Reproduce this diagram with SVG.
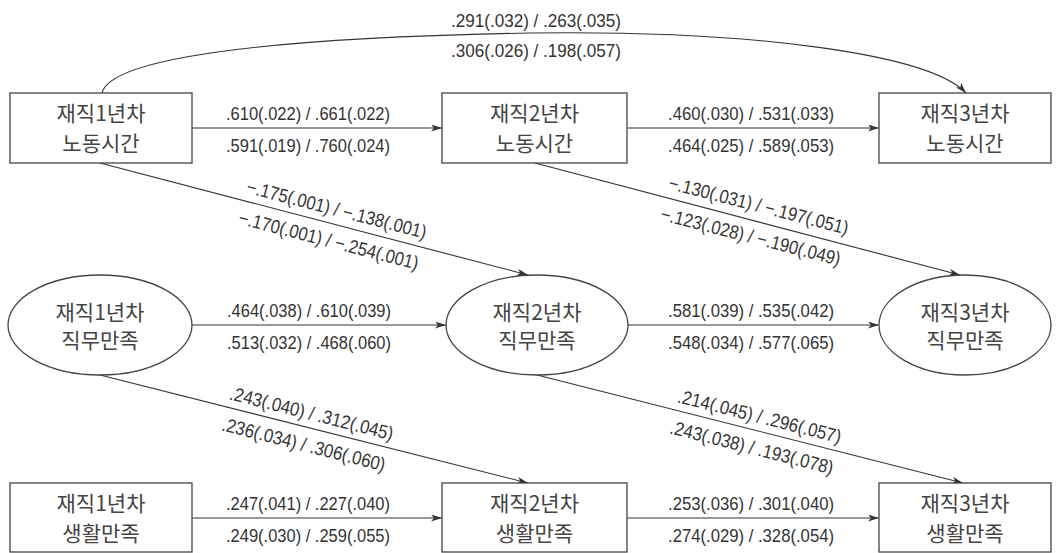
<svg xmlns="http://www.w3.org/2000/svg" width="1061" height="553" viewBox="0 0 1061 553">
<style>
.box{fill:#fff;stroke:#444;stroke-width:1.3}
.nt{font-family:"Noto Sans CJK KR","Noto Sans",sans-serif;font-size:21px;fill:#444;text-anchor:middle}
.ln{fill:none;stroke:#333;stroke-width:1.1}
.lb{font-family:"Liberation Sans",Arial,sans-serif;font-size:19px;fill:#333;text-anchor:middle}
</style>
<defs>
<marker id="ah" markerUnits="userSpaceOnUse" markerWidth="12" markerHeight="8" refX="11" refY="3.5" orient="auto">
<path d="M0,0 L11,3.5 L0,7 L3,3.5 z" fill="#333"/>
</marker>
</defs>
<rect width="1061" height="553" fill="#fff"/>
<g id="connectors">
<path class="ln" marker-end="url(#ah)" d="M102,93 C110,60 250,38 530,33 C760,30 930,55 966,93"/>
<line class="ln" marker-end="url(#ah)" x1="192" y1="128" x2="442" y2="128"/>
<line class="ln" marker-end="url(#ah)" x1="627" y1="128" x2="879" y2="128"/>
<line class="ln" marker-end="url(#ah)" x1="192" y1="325" x2="446" y2="325"/>
<line class="ln" marker-end="url(#ah)" x1="628" y1="325" x2="879" y2="325"/>
<line class="ln" marker-end="url(#ah)" x1="192" y1="518" x2="442" y2="518"/>
<line class="ln" marker-end="url(#ah)" x1="627" y1="518" x2="879" y2="518"/>
<line class="ln" marker-end="url(#ah)" x1="100" y1="163" x2="528" y2="275"/>
<line class="ln" marker-end="url(#ah)" x1="535" y1="163" x2="960" y2="275"/>
<line class="ln" marker-end="url(#ah)" x1="100" y1="375" x2="528" y2="483"/>
<line class="ln" marker-end="url(#ah)" x1="537" y1="375" x2="963" y2="483"/>
</g>
<g id="labels">
<text class="lb" x="536" y="27" textLength="170" lengthAdjust="spacingAndGlyphs">.291(.032) / .263(.035)</text>
<text class="lb" x="536" y="57" textLength="170" lengthAdjust="spacingAndGlyphs">.306(.026) / .198(.057)</text>
<text class="lb" x="308" y="120" textLength="164" lengthAdjust="spacingAndGlyphs">.610(.022) / .661(.022)</text>
<text class="lb" x="308" y="152" textLength="164" lengthAdjust="spacingAndGlyphs">.591(.019) / .760(.024)</text>
<text class="lb" x="751" y="120" textLength="166" lengthAdjust="spacingAndGlyphs">.460(.030) / .531(.033)</text>
<text class="lb" x="751" y="152" textLength="166" lengthAdjust="spacingAndGlyphs">.464(.025) / .589(.053)</text>
<text class="lb" x="309" y="317" textLength="164" lengthAdjust="spacingAndGlyphs">.464(.038) / .610(.039)</text>
<text class="lb" x="309" y="349" textLength="164" lengthAdjust="spacingAndGlyphs">.513(.032) / .468(.060)</text>
<text class="lb" x="751" y="317" textLength="166" lengthAdjust="spacingAndGlyphs">.581(.039) / .535(.042)</text>
<text class="lb" x="751" y="349" textLength="166" lengthAdjust="spacingAndGlyphs">.548(.034) / .577(.065)</text>
<text class="lb" x="308" y="510" textLength="164" lengthAdjust="spacingAndGlyphs">.247(.041) / .227(.040)</text>
<text class="lb" x="308" y="542" textLength="164" lengthAdjust="spacingAndGlyphs">.249(.030) / .259(.055)</text>
<text class="lb" x="751" y="510" textLength="166" lengthAdjust="spacingAndGlyphs">.253(.036) / .301(.040)</text>
<text class="lb" x="751" y="542" textLength="166" lengthAdjust="spacingAndGlyphs">.274(.029) / .328(.054)</text>
<g transform="translate(333,223.4) rotate(14.5)">
<text class="lb" x="0" y="-8" textLength="185" lengthAdjust="spacingAndGlyphs">−.175(.001) / −.138(.001)</text>
<text class="lb" x="0" y="24" textLength="185" lengthAdjust="spacingAndGlyphs">−.170(.001) / −.254(.001)</text>
</g>
<g transform="translate(755,219.4) rotate(14.4)">
<text class="lb" x="0" y="-8" textLength="185" lengthAdjust="spacingAndGlyphs">−.130(.031) / −.197(.051)</text>
<text class="lb" x="0" y="24" textLength="185" lengthAdjust="spacingAndGlyphs">−.123(.028) / −.190(.049)</text>
</g>
<g transform="translate(308,427.5) rotate(14.2)">
<text class="lb" x="0" y="-8" textLength="168" lengthAdjust="spacingAndGlyphs">.243(.040) / .312(.045)</text>
<text class="lb" x="0" y="24" textLength="168" lengthAdjust="spacingAndGlyphs">.236(.034) / .306(.060)</text>
</g>
<g transform="translate(756,430.5) rotate(14.2)">
<text class="lb" x="0" y="-8" textLength="168" lengthAdjust="spacingAndGlyphs">.214(.045) / .296(.057)</text>
<text class="lb" x="0" y="24" textLength="168" lengthAdjust="spacingAndGlyphs">.243(.038) / .193(.078)</text>
</g>
</g>
<g id="n1_hours">
<rect class="box" x="10" y="93" width="182" height="70"/>
<text class="nt" x="101" y="121">재직1년차</text>
<text class="nt" x="101" y="151">노동시간</text>
</g>
<g id="n2_hours">
<rect class="box" x="442" y="93" width="185" height="70"/>
<text class="nt" x="534.5" y="121">재직2년차</text>
<text class="nt" x="534.5" y="151">노동시간</text>
</g>
<g id="n3_hours">
<rect class="box" x="879" y="93" width="172" height="70"/>
<text class="nt" x="965" y="121">재직3년차</text>
<text class="nt" x="965" y="151">노동시간</text>
</g>
<g id="n1_job">
<ellipse class="box" cx="100" cy="325" rx="92" ry="50"/>
<text class="nt" x="100" y="319.5">재직1년차</text>
<text class="nt" x="100" y="347.5">직무만족</text>
</g>
<g id="n2_job">
<ellipse class="box" cx="537" cy="325" rx="91" ry="50"/>
<text class="nt" x="537" y="319.5">재직2년차</text>
<text class="nt" x="537" y="347.5">직무만족</text>
</g>
<g id="n3_job">
<ellipse class="box" cx="965" cy="325" rx="86" ry="50"/>
<text class="nt" x="965" y="319.5">재직3년차</text>
<text class="nt" x="965" y="347.5">직무만족</text>
</g>
<g id="n1_life">
<rect class="box" x="10" y="483" width="182" height="69"/>
<text class="nt" x="101" y="511">재직1년차</text>
<text class="nt" x="101" y="541">생활만족</text>
</g>
<g id="n2_life">
<rect class="box" x="442" y="483" width="185" height="69"/>
<text class="nt" x="534.5" y="511">재직2년차</text>
<text class="nt" x="534.5" y="541">생활만족</text>
</g>
<g id="n3_life">
<rect class="box" x="879" y="483" width="172" height="69"/>
<text class="nt" x="965" y="511">재직3년차</text>
<text class="nt" x="965" y="541">생활만족</text>
</g>
</svg>
